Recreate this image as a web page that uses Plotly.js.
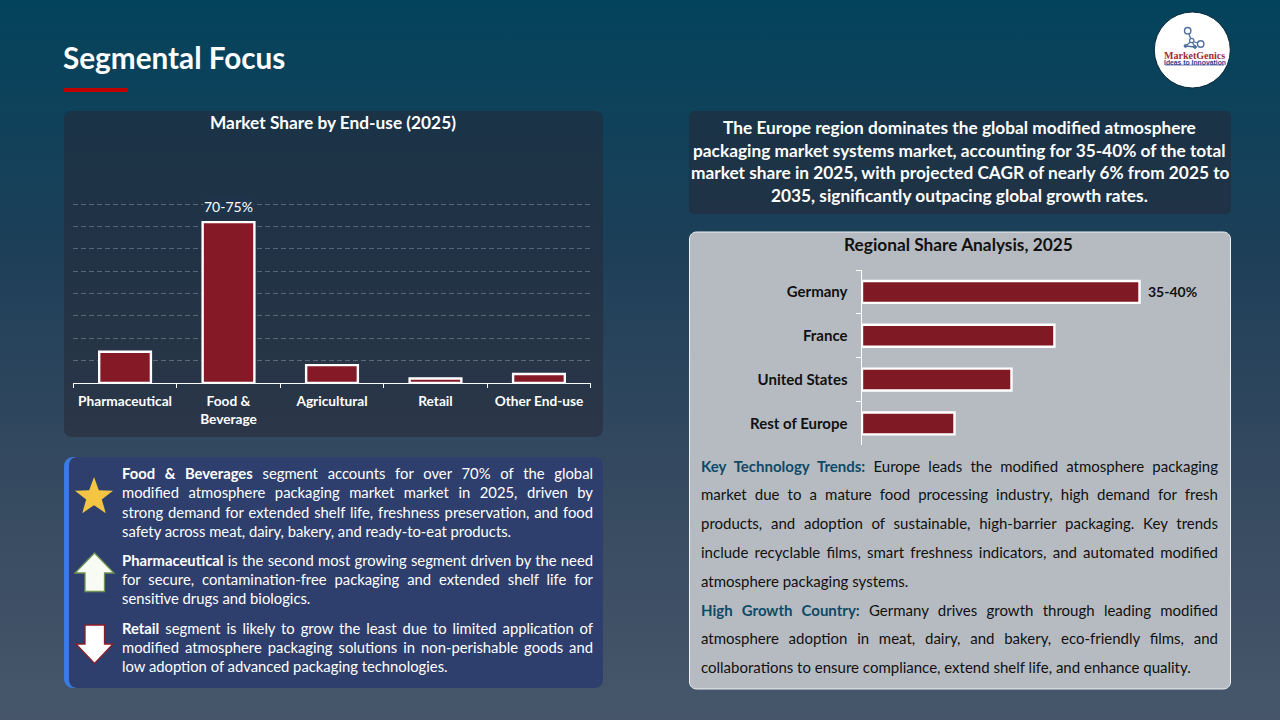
<!DOCTYPE html>
<html><head><meta charset="utf-8">
<script src="https://cdn.plot.ly/plotly-3.0.1.min.js"></script>
<style>
html,body{margin:0;padding:0;width:1280px;height:720px;overflow:hidden;background:linear-gradient(180deg,#03435c 0%,#1e3f58 35%,#34495f 65%,#47566b 100%);}
#chart{position:absolute;left:0;top:0;width:1280px;height:720px;}
#overlay{position:absolute;left:0;top:0;width:1280px;height:720px;pointer-events:none;font-family:Lato,sans-serif;}
.ln{position:absolute;height:20px;line-height:20px;white-space:pre;}
.j{text-align:justify;text-align-last:justify;white-space:normal;}
b{font-weight:700;}
</style></head><body>
<div id="chart"></div><div id="overlay"></div>
<script>
const pageTitle = "Segmental Focus";
const endUseTitle = "Market Share by End-use (2025)";
const endUseCategories = ["Pharmaceutical","Food &<br>Beverage","Agricultural","Retail","Other End-use"];
const endUseValues = [14,72,8,2,4];
const endUseLabel = "70-75%";
const regionTitle = "Regional Share Analysis, 2025";
const regionCategories = ["Germany","France","United States","Rest of Europe"];
const regionValues = [37.5,26,20.2,12.5];
const regionLabel = "35-40%";
const summaryLines = [
 "The Europe region dominates the global modified atmosphere",
 "packaging market systems market, accounting for 35-40% of the total",
 "market share in 2025, with projected CAGR of nearly 6% from 2025 to",
 "2035, significantly outpacing global growth rates."];
const leftLeads = ["Food & Beverages","","","","Pharmaceutical","","","Retail","",""];
const leftLines = [
 " segment accounts for over 70% of the global",
 "modified atmosphere packaging market  market in 2025, driven by",
 "strong demand for extended shelf life, freshness preservation, and food",
 "safety across meat, dairy, bakery, and ready-to-eat products.",
 " is the second most growing segment driven by the need",
 "for secure, contamination-free packaging and extended shelf life for",
 "sensitive drugs and biologics.",
 " segment is likely to grow the least due to limited application of",
 "modified atmosphere packaging solutions in non-perishable goods and",
 "low adoption of advanced packaging technologies."];
const rightLeads = ["Key Technology Trends:","","","","","High Growth Country:","",""];
const rightLines = [
 " Europe leads the modified atmosphere packaging",
 "market due to a mature food processing industry, high demand for fresh",
 "products, and adoption of sustainable, high-barrier packaging. Key trends",
 "include recyclable films, smart freshness indicators, and automated modified",
 "atmosphere packaging systems.",
 " Germany drives growth through leading modified",
 "atmosphere adoption in meat, dairy, and bakery, eco-friendly films, and",
 "collaborations to ensure compliance, extend shelf life, and enhance quality."];

const W=1280,H=720, FONT="Lato, sans-serif";
const px=x=>x/W, py=y=>1-y/H;
function rr(x0,y0,x1,y1,r){
  const X=v=>px(v).toFixed(5), Y=v=>py(v).toFixed(5);
  const k=0.45*r;
  return `M${X(x0+r)} ${Y(y0)} L${X(x1-r)} ${Y(y0)} C${X(x1-k)} ${Y(y0)} ${X(x1)} ${Y(y0+k)} ${X(x1)} ${Y(y0+r)} L${X(x1)} ${Y(y1-r)} C${X(x1)} ${Y(y1-k)} ${X(x1-k)} ${Y(y1)} ${X(x1-r)} ${Y(y1)} L${X(x0+r)} ${Y(y1)} C${X(x0+k)} ${Y(y1)} ${X(x0)} ${Y(y1-k)} ${X(x0)} ${Y(y1-r)} L${X(x0)} ${Y(y0+r)} C${X(x0)} ${Y(y0+k)} ${X(x0+k)} ${Y(y0)} ${X(x0+r)} ${Y(y0)} Z`;
}
const poly=pts=>"M"+pts.map(p=>px(p[0]).toFixed(5)+" "+py(p[1]).toFixed(5)).join(" L")+" Z";
const pshape=(path,fill,lc,lw)=>({type:"path",xref:"paper",yref:"paper",path,fillcolor:fill,line:{color:lc||fill,width:lw===undefined?0:lw},layer:"below"});
const circ=(cx,cy,r,fill,lc,lw)=>({type:"circle",xref:"paper",yref:"paper",x0:px(cx-r),x1:px(cx+r),y0:py(cy+r),y1:py(cy-r),fillcolor:fill,line:{color:lc||fill,width:lw||0},layer:"above"});
const seg=(x0,y0,x1,y1,c,w)=>({type:"line",xref:"paper",yref:"paper",x0:px(x0),x1:px(x1),y0:py(y0),y1:py(y1),line:{color:c,width:w},layer:"above"});
const star=[];for(let i=0;i<10;i++){const r=i%2?8.2:20,a=-Math.PI/2+i*Math.PI/5;star.push([94+r*Math.cos(a),497+r*Math.sin(a)]);}
const ICON="#4f6f9f";
const shapes=[
 pshape(rr(64,111,603,437,8),"rgba(38,38,52,0.50)"),
 pshape(rr(689,111,1231,214,5),"rgba(38,38,52,0.50)"),
 pshape(rr(64,457,603,688,9),"#3a7be0"),
 pshape(rr(69,457,603,688,8),"#2f3f6d"),
 pshape(rr(689.5,232,1230.5,689,7),"#b6bbc2","#eef1f4",1),
 {type:"rect",xref:"paper",yref:"paper",x0:px(64),x1:px(128),y0:py(92),y1:py(88),fillcolor:"#c00000",line:{width:0},layer:"below"},
 pshape(poly(star),"#f4c542"),
 pshape(poly([[94.5,553],[114,573],[104.5,573],[104.5,591.5],[85,591.5],[85,573],[75,573]]),"#f7fbf4","#6f9250",1.3),
 pshape(poly([[85,625],[104.5,625],[104.5,644],[113,644],[94.5,663.5],[76,644],[85,644]]),"#ffffff","#8a1f2a",1.3),
 circ(1192.3,50,38,"#ffffff","#0a2a3a",1),
 seg(1187.7,31,1191.7,41,ICON,1.3),seg(1191.7,41,1200.7,44,ICON,1.3),seg(1191.7,41,1185.5,46,ICON,1.3),seg(1191.7,41,1195,47,ICON,1.3),seg(1185.5,46,1195,47,ICON,1.3),
 circ(1187.7,30.7,3.2,"#ffffff",ICON,1.4),circ(1191.7,40.5,2.2,"#ffffff",ICON,1.2),circ(1200.7,44,3.2,"#ffffff",ICON,1.4),circ(1185.5,46,1.4,ICON,ICON,1),circ(1195,47,1.4,ICON,ICON,1),
 seg(1165,65,1224,65,"#2f3f90",0.7)
];
const ann=(x,y,text,size,color,anchor,weight,family)=>({xref:"paper",yref:"paper",x:px(x),y:py(y),text,showarrow:false,xanchor:anchor||"center",yanchor:"middle",font:{family:family||FONT,size,color,weight:weight||400}});
const annotations=[
 ann(61,57.5,pageTitle,29.7,"#ffffff","left",700),
 ann(333,122,endUseTitle,17.3,"#ffffff","center",700),
 ann(958.5,244.5,regionTitle,17.3,"#111111","center",700),
 ann(1194.5,56,"MarketGenics",10,"#a02c38","center",700,"Liberation Serif"),
 ann(1194.5,62.6,"Ideas to Innovation",6.8,"#2f3f90","center",700,"Liberation Sans"),
 {xref:"x",yref:"y",x:endUseCategories[1],y:endUseValues[1],yshift:6,text:endUseLabel,showarrow:false,yanchor:"bottom",bgcolor:"#1e344a",font:{family:FONT,size:14,color:"#ffffff"},borderpad:0},
 {xref:"x2",yref:"y2",x:regionValues[0],y:regionCategories[0],xshift:6,text:regionLabel,showarrow:false,xanchor:"left",yanchor:"middle",font:{family:FONT,size:14,color:"#111111",weight:700}}
];
summaryLines.forEach((t,i)=>annotations.push(ann(959.5,[127.5,150,172.5,195.5][i],t,17.3,"#ffffff","center",700)));

const traces=[
 {type:"bar",x:endUseCategories,y:endUseValues,xaxis:"x",yaxis:"y",width:0.5,marker:{color:"#851a26",line:{color:"#ffffff",width:2.4}},hoverinfo:"skip",showlegend:false},
 {type:"bar",orientation:"h",y:regionCategories,x:regionValues,xaxis:"x2",yaxis:"y2",width:0.5,marker:{color:"#7f1a24",line:{color:"#ffffff",width:2.4}},hoverinfo:"skip",showlegend:false}
];
const layout={
 width:W,height:H,margin:{l:0,r:0,t:0,b:0,pad:0},paper_bgcolor:"rgba(0,0,0,0)",plot_bgcolor:"rgba(0,0,0,0)",
 font:{family:FONT},showlegend:false,shapes,annotations,bargap:0.5,
 xaxis:{domain:[px(73.3),px(590.7)],anchor:"y",type:"category",tickson:"boundaries",ticks:"outside",ticklen:4,tickcolor:"#ffffff",tickwidth:1,showline:true,linecolor:"#ffffff",linewidth:1,showgrid:false,tickangle:0,tickfont:{family:FONT,size:13.7,color:"#ffffff",weight:700},fixedrange:true,ticklabelstandoff:6},
 yaxis:{domain:[py(383),py(383-84*2.234)],anchor:"x",range:[0,84],tickvals:[10,20,30,40,50,60,70,80],showticklabels:false,ticks:"",showline:false,zeroline:false,showgrid:true,gridcolor:"rgba(255,255,255,0.25)",griddash:"5px,3px",gridwidth:1,fixedrange:true},
 xaxis2:{domain:[px(862),px(1195)],anchor:"y2",range:[0,45],visible:false,fixedrange:true},
 yaxis2:{domain:[py(445.3),py(270)],anchor:"x2",type:"category",autorange:"reversed",tickson:"boundaries",ticks:"outside",ticklen:5,tickcolor:"#ffffff",tickwidth:1,showline:true,linecolor:"#ffffff",linewidth:1.5,showgrid:false,tickfont:{family:FONT,size:15,color:"#111111",weight:700},ticklabelstandoff:10,fixedrange:true}
};
Plotly.newPlot("chart",traces,layout,{displayModeBar:false,staticPlot:true});

const ov=document.getElementById("overlay");
function addLine(x,w,y,lead,text,size,color,leadColor,justify){
  const d=document.createElement("div");d.className="ln"+(justify?" j":"");
  d.style.cssText+=`left:${x}px;top:${y-11}px;font-size:${size}px;color:${color};`;
  d.style.width=w+"px";
  if(lead){const b=document.createElement("b");b.textContent=lead;b.style.color=leadColor;d.appendChild(b);}
  d.appendChild(document.createTextNode(text));
  ov.appendChild(d);
}
const leftY=[474,493,513,532,561,580,599,629,648,667], leftJ=[1,1,1,0,1,1,0,1,1,0];
leftLines.forEach((t,i)=>addLine(122,471,leftY[i],leftLeads[i],t,14.8,"#ffffff","#ffffff",leftJ[i]));
const rightY=[467,495,524,553,582,611,639,668], rightJ=[1,1,1,1,0,1,1,0];
rightLines.forEach((t,i)=>addLine(701,517,rightY[i],rightLeads[i],t,15,"#111111","#0f4a66",rightJ[i]));
</script></body></html>
